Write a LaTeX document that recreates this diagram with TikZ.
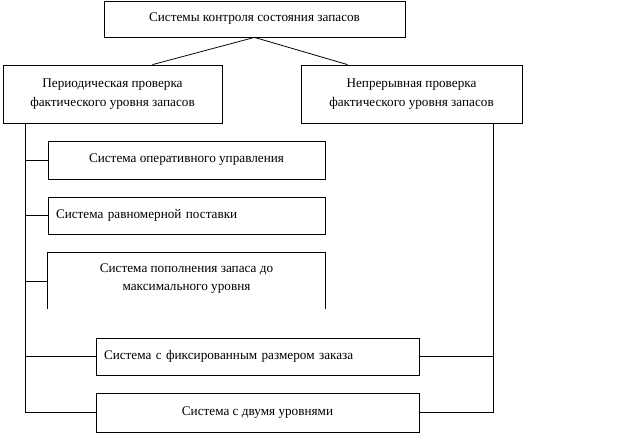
\documentclass[tikz,border=0pt]{standalone}
\usepackage{fontspec}
\setmainfont{Liberation Serif}
\usetikzlibrary{calc}

\tikzset{
  box/.style={draw,line width=0.8pt,align=center,inner sep=0pt,
    font=\fontsize{13.2}{18.5}\selectfont},
  leftbox/.style={box,align=left,inner xsep=8pt},
  link/.style={line width=0.8pt}
}

\begin{document}
\begin{tikzpicture}[x=1pt,y=-1pt]
\useasboundingbox (0,0) rectangle (621,433);

% Top level
\node[box,minimum width=301,minimum height=36] (sys) at (254.5,19) {Системы контроля состояния запасов};

% Two ways of checking
\node[box,minimum width=219,minimum height=58] (per) at (112.5,94) {Периодическая проверка\\фактического уровня запасов};
\node[box,minimum width=221,minimum height=58] (cont) at (411.5,94) {Непрерывная проверка\\фактического уровня запасов};

\draw[link] (sys.south) -- ([xshift=40]per.north);
\draw[link] (sys.south) -- ([xshift=-64]cont.north);

% Systems
\node[box,minimum width=277,minimum height=38] (oper) at (186.5,160) {Система оперативного управления};
\node[leftbox,text width=261,minimum height=37] (even) at (186.5,215.5) {Система равномерной поставки};
\node[box,draw=none,minimum width=277,minimum height=56] (maxl) at (186.5,281) {Система пополнения запаса до\\максимального уровня\\[-10.5pt]};
\draw[link] (maxl.south west) -- (maxl.north west) -- (maxl.north east) -- (maxl.south east);
\node[leftbox,text width=307,minimum height=37] (fixq) at (257.5,356.5) {Система с фиксированным размером заказа};
\node[box,minimum width=323,minimum height=39] (two) at (257.5,412.5) {Система с двумя уровнями};

% Bus lines
\coordinate (lbus) at (25,412.5);
\coordinate (rbus) at (493,412.5);

\draw[link] (per.south -| lbus) -- (lbus) -- (two.west);
\draw[link] (cont.south -| rbus) -- (rbus) -- (two.east);
\draw[link] (oper.west) -- (oper.west -| lbus);
\draw[link] (even.west) -- (even.west -| lbus);
\draw[link] (maxl.west) -- (maxl.west -| lbus);
\draw[link] (fixq.west) -- (fixq.west -| lbus);
\draw[link] (fixq.east) -- (fixq.east -| rbus);

\end{tikzpicture}
\end{document}
